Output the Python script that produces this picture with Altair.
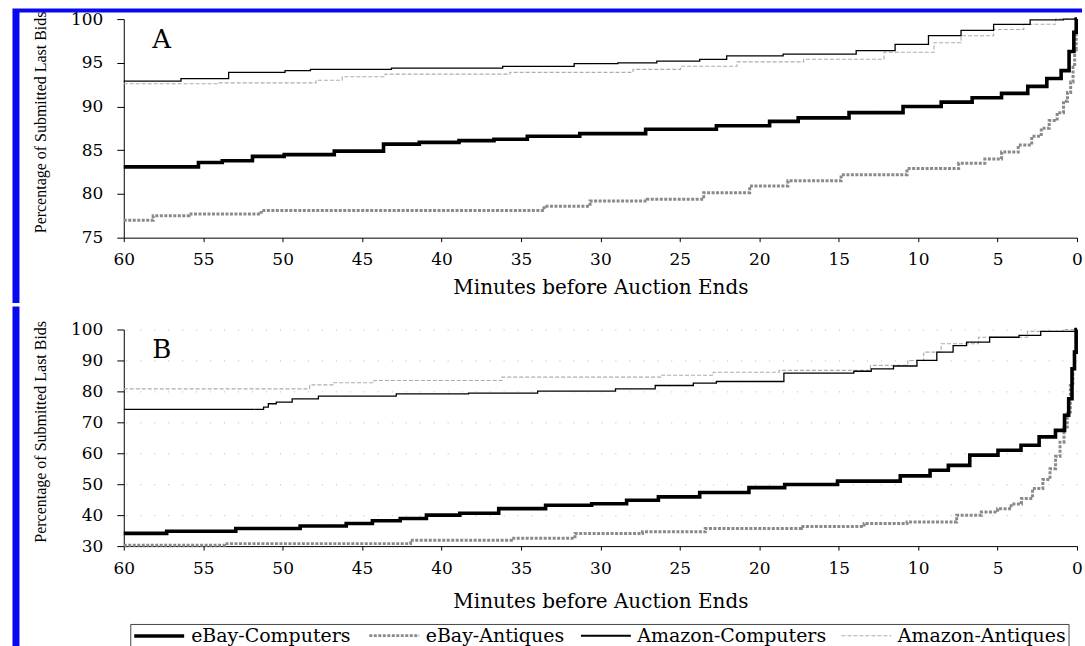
import altair as alt
import pandas as pd

SERIES = ["eBay-Computers", "eBay-Antiques", "Amazon-Computers", "Amazon-Antiques"]
COLORS = ["#000000", "#8a8a8a", "#000000", "#adadad"]
WIDTHS = [3.6, 3.0, 1.3, 1.1]
DASHES = [[1, 0], [3, 1.5], [1, 0], [4, 2]]

X_TICKS = [60, 55, 50, 45, 40, 35, 30, 25, 20, 15, 10, 5, 0]
A_Y_TICKS = [75, 80, 85, 90, 95, 100]
B_Y_TICKS = [30, 40, 50, 60, 70, 80, 90, 100]

# ---------------- Panel A ----------------
A_EBAY_COMP_MIN = [60, 56, 54.6, 53, 50.8, 49, 44.5, 42.8, 40, 37.8, 35.6, 33.6, 29, 25.3, 20.1, 18.6,
                   16.5, 12.2, 9.7, 7.4, 5.8, 3.7, 2.5, 1.3, 0.7, 0.3, 0.1, 0]
A_EBAY_COMP_PCT = [83.1, 83.1, 83.6, 83.8, 84.3, 84.5, 84.9, 85.7, 85.9, 86.1, 86.25, 86.6, 86.9, 87.4, 87.8, 88.3,
                   88.7, 89.3, 90.0, 90.5, 91.0, 91.5, 92.3, 93.2, 94.1, 96.3, 98.5, 100]

A_EBAY_ANT_MIN = [60, 56.3, 55.5, 47.2, 34.6, 32.5, 28.8, 25.3, 21.7, 19.5, 16.9, 12.8, 8.6, 6.3, 5.3, 4.2,
                  3.2, 2.5, 2.0, 1.5, 1.0, 0.7, 0.5, 0.3, 0.2, 0.1, 0]
A_EBAY_ANT_PCT = [77.0, 77.5, 77.7, 78.1, 78.1, 78.6, 79.2, 79.4, 80.15, 80.9, 81.5, 82.2, 82.9, 83.5, 84.0, 84.8,
                  85.6, 86.6, 87.5, 88.4, 89.3, 90.6, 91.6, 92.8, 94.5, 96.5, 99.0]

A_AMZ_COMP_MIN = [60, 56.5, 56.3, 50.5, 49.2, 47.3, 39, 33.3, 30, 27.8, 25.1, 22.4, 21.7, 15.3, 12.5,
                  10.4, 8.3, 6.3, 4.2, 1.7, 0]
A_AMZ_COMP_PCT = [92.9, 92.9, 93.2, 93.9, 94.1, 94.25, 94.4, 94.6, 94.9, 95.0, 95.2, 95.4, 95.8, 96.0, 96.4,
                  97.1, 98.1, 98.7, 99.4, 99.9, 100]

A_AMZ_ANT_MIN = [60, 48, 47.8, 44.7, 42.4, 29, 26.9, 23, 19.8, 14.6, 9.7, 8.3, 6.3, 4.2, 2.5, 0.2, 0]
A_AMZ_ANT_PCT = [92.6, 92.7, 93.0, 93.4, 93.7, 93.9, 94.25, 94.6, 95.1, 95.4, 96.2, 97.3, 98.1, 98.8, 99.4,
                 100, 100]

# ---------------- Panel B ----------------
B_EBAY_COMP_MIN = [60, 54.6, 51.3, 46.5, 45.5, 43.2, 42, 39.9, 37.8, 35, 31.9, 29.2, 27.5, 25.2, 22.3, 19,
                   17.8, 12.35, 9.9, 8.6, 7.6, 5.9, 4.05, 3.0, 1.77, 0.94, 0.63, 0.42, 0.21, 0.11, 0]
B_EBAY_COMP_PCT = [34.1, 34.8, 35.7, 36.5, 37.3, 38.2, 38.9, 40.0, 40.6, 42.1, 43.2, 43.7, 44.8, 45.9, 47.3, 48.9,
                   49.9, 51.0, 52.7, 54.5, 56.1, 59.4, 61.0, 62.6, 65.3, 67.4, 72.3, 77.6, 87.3, 92.7, 100]

B_EBAY_ANT_MIN = [60, 47.3, 36.6, 34.6, 28.6, 26.1, 20.7, 14, 12.8, 8.6, 6.55, 5.5, 4.5, 3.8, 3.2, 2.4,
                  1.9, 1.5, 1.2, 0.94, 0.7, 0.52, 0.32, 0.2, 0.11, 0]
B_EBAY_ANT_PCT = [30.3, 30.8, 31.9, 32.5, 34.1, 34.6, 35.7, 36.3, 37.3, 37.8, 40.0, 41.0, 42.1, 43.6, 45.4, 48.6,
                  51.5, 55.0, 59.0, 63.6, 68.5, 73.3, 81.9, 87.0, 92.7, 100]

B_AMZ_COMP_MIN = [60, 51.3, 51.1, 50.7, 50.1, 48.7, 46.8, 38.9, 37.7, 30.2, 27.9, 25.2, 23.1, 22.3, 14.6,
                  13.5, 12.4, 10.7, 9.45, 8.2, 7.4, 6.5, 4.5, 2.8, 1.77, 0.2, 0]
B_AMZ_COMP_PCT = [74.2, 74.2, 74.9, 76.0, 76.55, 77.6, 78.5, 79.2, 79.45, 80.1, 80.8, 81.9, 82.7, 83.2, 85.9,
                  86.5, 87.3, 88.2, 90.0, 92.7, 94.8, 95.9, 97.5, 98.1, 99.4, 99.4, 100]

B_AMZ_ANT_MIN = [60, 48.4, 48.2, 45.4, 43.1, 29.3, 23.1, 22.7, 14.8, 11.2, 10.1, 9.2, 7.9, 4.5, 1.75, 0]
B_AMZ_ANT_PCT = [80.8, 80.8, 82.1, 82.8, 83.5, 84.6, 85.2, 86.2, 86.8, 88.4, 90.0, 92.7, 95.4, 97.5, 99.4, 100]

WIDTH_OF = dict(zip(SERIES, WIDTHS))


def frame(parts):
    rows = []
    for name, mins, pcts in parts:
        for m, p in zip(mins, pcts):
            rows.append({"series": name, "minutes": m, "pct": p, "sw": WIDTH_OF[name]})
    return pd.DataFrame(rows)


df_a = frame([
    ("Amazon-Antiques", A_AMZ_ANT_MIN, A_AMZ_ANT_PCT),
    ("Amazon-Computers", A_AMZ_COMP_MIN, A_AMZ_COMP_PCT),
    ("eBay-Antiques", A_EBAY_ANT_MIN, A_EBAY_ANT_PCT),
    ("eBay-Computers", A_EBAY_COMP_MIN, A_EBAY_COMP_PCT),
])
df_b = frame([
    ("Amazon-Antiques", B_AMZ_ANT_MIN, B_AMZ_ANT_PCT),
    ("Amazon-Computers", B_AMZ_COMP_MIN, B_AMZ_COMP_PCT),
    ("eBay-Antiques", B_EBAY_ANT_MIN, B_EBAY_ANT_PCT),
    ("eBay-Computers", B_EBAY_COMP_MIN, B_EBAY_COMP_PCT),
])

W = 955
H_A = 219
H_B = 217
SERIF = "DejaVu Serif"
BLUE = "#0808f2"
dummy = pd.DataFrame({"d": [0]})


def panel(df, ydomain, yticks, letter, H, title_y, title_pad, grid, legend, rule_top, rule_bottom, top_bar):
    x_axis = alt.Axis(values=X_TICKS, format="d", title="Minutes before Auction Ends",
                      tickSize=4, labelPadding=10, titlePadding=title_pad, grid=False,
                      labelFlush=False)
    y_axis = alt.Axis(values=yticks, title="Percentage of Submitted Last Bids", tickSize=7,
                      labelPadding=14, grid=grid, gridColor="#9a9a9a", gridDash=[1, 13],
                      gridOpacity=0.7, titleFont="Liberation Serif", titleFontSize=16,
                      titleX=-75.5, titleY=title_y, titleAngle=270, titleAlign="center",
                      titleBaseline="bottom")
    x_enc = alt.X("minutes:Q", scale=alt.Scale(domain=[0, 60], reverse=True, nice=False, zero=False),
                  axis=x_axis)
    y_enc = alt.Y("pct:Q", scale=alt.Scale(domain=ydomain, nice=False, zero=False), axis=y_axis)
    lines = alt.Chart(df).mark_line(interpolate="step").encode(
        x=x_enc,
        y=y_enc,
        color=alt.Color("series:N", scale=alt.Scale(domain=SERIES, range=COLORS), legend=None),
        strokeWidth=alt.StrokeWidth("sw:Q", scale=None, legend=None),
        strokeDash=alt.StrokeDash("series:N", scale=alt.Scale(domain=SERIES, range=DASHES), legend=None),
    )
    label = alt.Chart(dummy).mark_text(font=SERIF, fontSize=26, align="center", baseline="middle",
                                       color="black").encode(
        x=alt.value(38), y=alt.value(21), text=alt.value(letter))
    vbar = alt.Chart(dummy).mark_rule(color=BLUE, strokeWidth=7, strokeCap="square").encode(
        x=alt.value(-108), y=alt.value(rule_top), y2=alt.value(rule_bottom))
    layers = [vbar]
    if top_bar:
        hbar = alt.Chart(dummy).mark_rule(color=BLUE, strokeWidth=4, strokeCap="butt").encode(
            x=alt.value(-111.5), x2=alt.value(W + 5), y=alt.value(-8.5))
        layers.append(hbar)
    layers += [lines, label]
    if legend is not None:
        key = alt.Chart(df).transform_filter("false").mark_line().encode(
            x=x_enc,
            y=y_enc,
            color=alt.Color("series:N", scale=alt.Scale(domain=SERIES, range=COLORS), legend=legend),
            strokeWidth=alt.StrokeWidth("series:N",
                                        scale=alt.Scale(type="point", domain=SERIES, range=[3.6, 1.1],
                                                        padding=0),
                                        legend=legend),
            strokeDash=alt.StrokeDash("series:N", scale=alt.Scale(domain=SERIES, range=DASHES),
                                      legend=legend),
        )
        layers.append(key)
    return alt.layer(*layers).properties(width=W, height=H).resolve_scale(
        color="independent", strokeWidth="independent", strokeDash="independent")


legend_b = alt.Legend(orient="none", legendX=6.5, legendY=295, direction="horizontal", title=None,
                      labelFont=SERIF, labelFontSize=19, labelColor="black", labelLimit=400,
                      symbolType="M-1,0H5.25", symbolSize=256, labelOffset=39,
                      strokeColor="#444444", padding=2, columnPadding=12)

top = panel(df_a, [75, 100], A_Y_TICKS, "A", H_A, 103, 10, False, None, -3.5, H_A + 62, True)
bottom = panel(df_b, [30, 100], B_Y_TICKS, "B", H_B, 102, 16, True, legend_b, -19.5, 322, False)

chart = alt.vconcat(top, bottom, spacing=0).resolve_scale(
    color="independent", strokeWidth="independent", strokeDash="independent"
).resolve_legend(
    color="independent", strokeWidth="independent", strokeDash="independent"
).properties(
    padding={"left": 10, "top": 7.5, "right": 0, "bottom": 0}, background="white"
).configure_view(stroke=None).configure_axis(
    domainColor="black", domainWidth=1, tickColor="black", labelColor="black", titleColor="black",
    labelFont=SERIF, labelFontSize=17, titleFont=SERIF, titleFontSize=20, titleFontWeight="normal"
)

chart.save("out.html", embed_options={"renderer": "svg", "actions": False})
